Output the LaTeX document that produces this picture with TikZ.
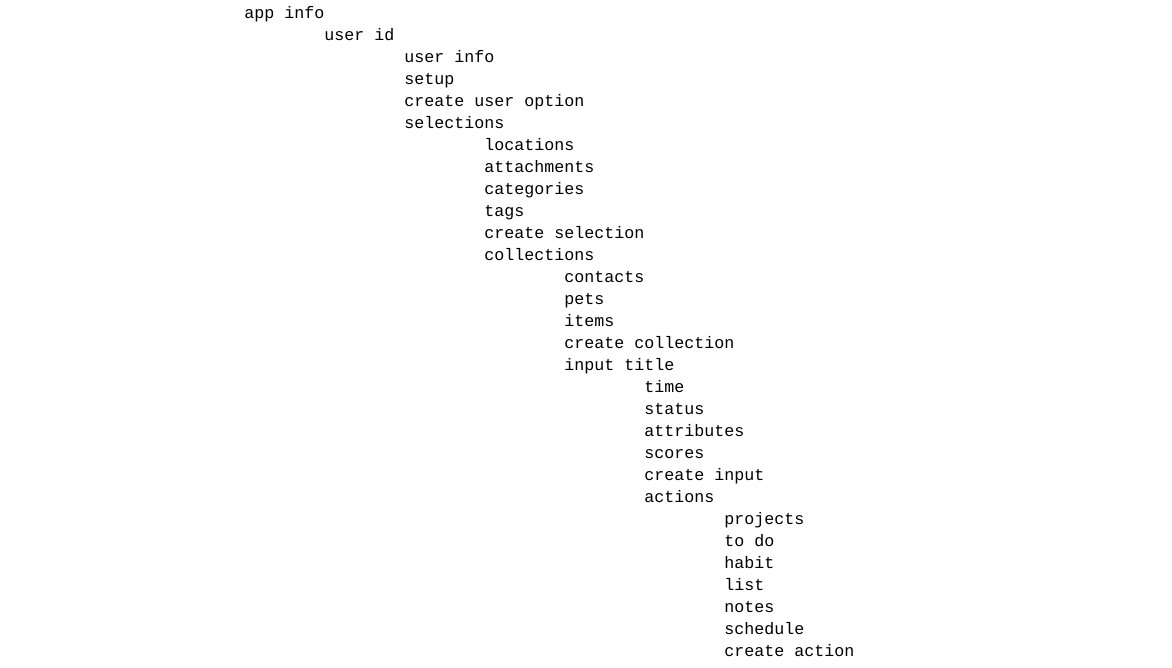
\documentclass[tikz,border=0pt]{standalone}
\usepackage{fontspec}
\setmonofont{Liberation Mono}
\begin{document}
\begin{tikzpicture}[x=0.75pt,y=-0.75pt,
  item/.style={anchor=west,inner sep=0pt,font=\ttfamily\fontsize{12.5pt}{14pt}\selectfont,text height=7pt,text depth=2pt}]
\useasboundingbox (0,0) rectangle (1172,668);
\foreach \lvl/\txt [count=\i] in {0/app info,1/user id,2/user info,2/setup,2/create user option,2/selections,3/locations,3/attachments,3/categories,3/tags,3/create selection,3/collections,4/contacts,4/pets,4/items,4/create collection,4/input title,5/time,5/status,5/attributes,5/scores,5/create input,5/actions,6/projects,6/to do,6/habit,6/list,6/notes,6/schedule,6/create action}
  \node[item] (n\i) at ({244+80*\lvl},{15+22*(\i-1)}) {\txt};
\end{tikzpicture}
\end{document}
